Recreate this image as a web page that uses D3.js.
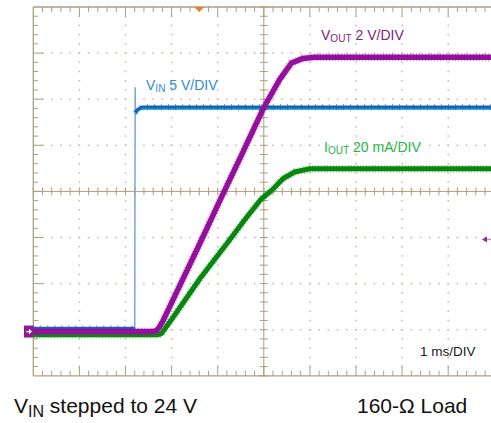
<!DOCTYPE html>
<html>
<head>
<meta charset="utf-8">
<script src="https://cdn.jsdelivr.net/npm/d3@7"></script>
<style>
  html, body { margin: 0; padding: 0; background: #fff; }
  svg { display: block; font-family: "Liberation Sans", Arial, sans-serif; }
</style>
</head>
<body>
<svg id="chart" width="491" height="423"></svg>
<script>
// ---- data (time in ms) ----
const vinTime  = [0, 2.2, 2.21, 2.215, 2.25, 2.35, 10];
const vinVolts = [0, 0, 26.1, 23.4, 23.7, 24, 24];

const voutTime  = [0, 2.6, 2.68, 2.72, 2.81, 3.62, 4.11, 4.48, 5.0, 5.35, 5.6, 5.85, 6.1, 10];
const voutVolts = [0, 0, 0.05, 0.15, 0.45, 3.85, 5.95, 7.5, 9.72, 10.95, 11.65, 11.85, 11.9, 11.9];

const ioutTime = [0, 2.7, 2.78, 3.03, 3.62, 4.2, 4.59, 4.94, 5.2, 5.42, 5.67, 6.0, 10];
const ioutMilliAmps = [0, 0, 0.5, 7.5, 24.5, 39.6, 50, 58.8, 63.2, 67.8, 70.6, 72, 72];

// channel settings: units per division and ground level (divisions from top)
const channelNames = ["VIN", "VOUT", "IOUT"];
const unitsPerDiv  = [5, 2, 20];
const groundDiv    = [6.97, 7.04, 7.11];

const timeDivs = 10, ampDivs = 8;

// ---- layout ----
const svg = d3.select("#chart");
const leftX = 33.3, topY = 7, divPx = 46.1;
const x = d3.scaleLinear().domain([0, timeDivs]).range([leftX, leftX + timeDivs * divPx]);
const yDiv = d3.scaleLinear().domain([0, ampDivs]).range([topY, topY + ampDivs * divPx]);
const frame = "#ab9f80";
const dotCol = "#c3b9a0";

svg.append("rect").attr("width", 491).attr("height", 423).attr("fill", "#fff");

const g = svg.append("g");
const rightEdge = 491;
const bottomY = yDiv(ampDivs);

// dotted grid lines
const minor = d3.range(0, timeDivs * 5 + 1).map(i => i / 5);
const minorY = d3.range(0, ampDivs * 5 + 1).map(i => i / 5);
d3.range(1, ampDivs).filter(d => d !== 4).forEach(d => {
  g.selectAll(null).data(minor.filter(t => t > 0 && x(t) < rightEdge)).enter().append("rect")
    .attr("x", t => x(t) - 0.75).attr("y", yDiv(d) - 0.75).attr("width", 1.5).attr("height", 1.5)
    .attr("fill", dotCol);
});
d3.range(1, timeDivs + 1).filter(d => d !== 5).forEach(d => {
  g.selectAll(null).data(minorY.filter(v => v > 0 && v < ampDivs)).enter().append("rect")
    .attr("x", x(d) - 0.75).attr("y", v => yDiv(v) - 0.75).attr("width", 1.5).attr("height", 1.5)
    .attr("fill", dotCol);
});

// center crosshair
g.append("line").attr("x1", x(5)).attr("x2", x(5)).attr("y1", topY).attr("y2", bottomY)
  .attr("stroke", frame).attr("stroke-width", 1);
g.append("line").attr("x1", leftX).attr("x2", rightEdge).attr("y1", yDiv(4)).attr("y2", yDiv(4))
  .attr("stroke", frame).attr("stroke-width", 1);
g.selectAll(null).data(minorY).enter().append("line")
  .attr("x1", x(5) - 4).attr("x2", x(5) + 4).attr("y1", v => yDiv(v)).attr("y2", v => yDiv(v))
  .attr("stroke", frame).attr("stroke-width", 1);
g.selectAll(null).data(minor.filter(t => x(t) < rightEdge)).enter().append("line")
  .attr("y1", yDiv(4) - 4).attr("y2", yDiv(4) + 4).attr("x1", t => x(t)).attr("x2", t => x(t))
  .attr("stroke", frame).attr("stroke-width", 1);

// frame edges
g.append("line").attr("x1", leftX).attr("x2", rightEdge).attr("y1", topY).attr("y2", topY)
  .attr("stroke", frame).attr("stroke-width", 1.3);
g.append("line").attr("x1", leftX).attr("x2", rightEdge).attr("y1", bottomY).attr("y2", bottomY)
  .attr("stroke", frame).attr("stroke-width", 1.3);
g.append("line").attr("x1", leftX).attr("x2", leftX).attr("y1", topY).attr("y2", bottomY)
  .attr("stroke", frame).attr("stroke-width", 1.3);

// edge ticks
const isMajor = v => Math.abs(v - Math.round(v)) < 1e-6;
const tks = minor.filter(t => t > 0 && x(t) < rightEdge);
g.selectAll(null).data(tks).enter().append("line")
  .attr("x1", t => x(t)).attr("x2", t => x(t))
  .attr("y1", topY).attr("y2", t => topY + (isMajor(t) ? 10 : 5))
  .attr("stroke", frame).attr("stroke-width", 1);
g.selectAll(null).data(tks).enter().append("line")
  .attr("x1", t => x(t)).attr("x2", t => x(t))
  .attr("y1", bottomY).attr("y2", t => bottomY - (isMajor(t) ? 10 : 5))
  .attr("stroke", frame).attr("stroke-width", 1);
g.selectAll(null).data(minorY.filter(v => v > 0 && v < ampDivs)).enter().append("line")
  .attr("y1", v => yDiv(v)).attr("y2", v => yDiv(v))
  .attr("x1", leftX).attr("x2", v => leftX + (isMajor(v) ? 10 : 5))
  .attr("stroke", frame).attr("stroke-width", 1);

// ---- traces ----
const chY = (ch, val) => yDiv(groundDiv[ch] - val / unitsPerDiv[ch]);
const vin = vinTime.map((t, i) => ({ t, v: vinVolts[i] }));
const vout = voutTime.map((t, i) => ({ t, v: voutVolts[i] }));
const iout = ioutTime.map((t, i) => ({ t, v: ioutMilliAmps[i] }));

const lineFor = ch => d3.line().x(d => x(d.t)).y(d => chY(ch, d.v));
const traces = svg.append("g").attr("fill", "none").attr("stroke-linejoin", "round");

// VIN: thin step line + thick flat portions
traces.append("path").datum(vin).attr("d", lineFor(0))
  .attr("stroke", "#7aa6da").attr("stroke-width", 1.5);
const vinThick = lineFor(0).defined(d => !(d.t > 2.205 && d.t < 2.212));
traces.append("path").datum(vin).attr("d", vinThick)
  .attr("transform", "translate(0,1.8)")
  .attr("stroke", "#2ab3d9").attr("stroke-width", 2.2);
traces.append("path").datum(vin).attr("d", vinThick)
  .attr("stroke", "#1a5fb4").attr("stroke-width", 3);
traces.append("path").datum(vin).attr("d", vinThick)
  .attr("stroke", "#1a5fb4").attr("stroke-width", 6).attr("stroke-dasharray", "1 6").attr("opacity", 0.6);

// IOUT
traces.append("path").datum(iout).attr("d", lineFor(2))
  .attr("stroke", "#0b8a12").attr("stroke-width", 7.5).attr("stroke-dasharray", "1 2").attr("opacity", 0.45);
traces.append("path").datum(iout).attr("d", lineFor(2))
  .attr("stroke", "#07870e").attr("stroke-width", 5);

// VOUT
traces.append("path").datum(vout).attr("d", lineFor(1))
  .attr("stroke", "#981aa0").attr("stroke-width", 8).attr("stroke-dasharray", "1 2").attr("opacity", 0.45);
traces.append("path").datum(vout).attr("d", lineFor(1))
  .attr("stroke", "#940f9c").attr("stroke-width", 5.5);

// ---- markers ----
svg.append("path").attr("d", `M${x(3.6) - 5},${topY} L${x(3.6) + 5},${topY} L${x(3.6)},${topY + 5} Z`)
  .attr("fill", "#f47c20");
const gy = chY(1, 0);
svg.append("rect").attr("x", 24).attr("y", gy - 6).attr("width", 9.3).attr("height", 12).attr("fill", "#8e1a93");
svg.append("path").attr("d", `M26,${gy} L31,${gy} M29,${gy - 2} L31,${gy} L29,${gy + 2}`)
  .attr("stroke", "#fff").attr("stroke-width", 1.3).attr("fill", "none");
const ty = yDiv(4) + 48;
svg.append("line").attr("x1", 486).attr("x2", 491).attr("y1", ty).attr("y2", ty)
  .attr("stroke", "#b0a58a").attr("stroke-width", 1.5);
svg.append("path").attr("d", `M482,${ty} L487,${ty - 3} L487,${ty + 3} Z`).attr("fill", "#a020a8");

// ---- labels ----
function label(xp, yp, main, sub, rest, color, size) {
  const t = svg.append("text").attr("x", xp).attr("y", yp).attr("fill", color).attr("font-size", size);
  t.append("tspan").text(main);
  t.append("tspan").attr("font-size", size * 0.72).attr("dy", size * 0.12).text(sub);
  t.append("tspan").attr("dy", -size * 0.12).text(rest);
}
label(146, 90, "V", "IN", " 5 V/DIV", "#2f8dd3", 14);
label(321, 40, "V", "OUT", " 2 V/DIV", "#7e1e80", 14);
label(324, 152, "I", "OUT", " 20 mA/DIV", "#27b44b", 14);
svg.append("text").attr("x", 420).attr("y", 356).attr("font-size", 13.5).attr("fill", "#1a1a1a").text("1 ms/DIV");

// bottom captions
const cap = svg.append("text").attr("x", 14).attr("y", 413).attr("font-size", 21).attr("fill", "#111");
cap.append("tspan").text("V");
cap.append("tspan").attr("font-size", 16).attr("dy", 4).text("IN");
cap.append("tspan").attr("dy", -4).text(" stepped to 24 V");
svg.append("text").attr("x", 357).attr("y", 413).attr("font-size", 21).attr("fill", "#111").text("160-Ω Load");
</script>
</body>
</html>
